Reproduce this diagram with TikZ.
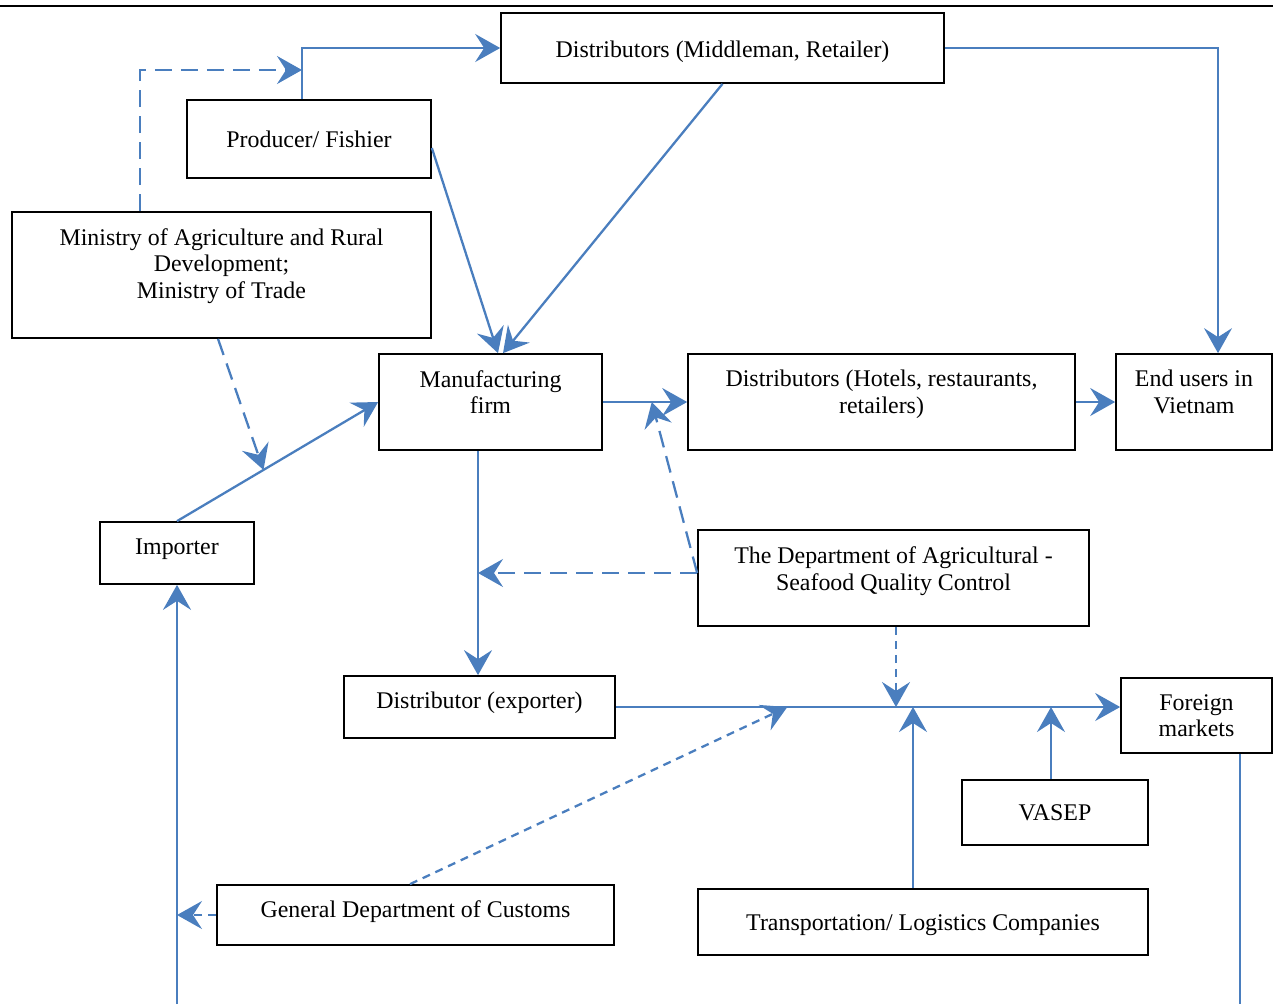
\documentclass[tikz,border=0pt]{standalone}
\usepackage{fontspec}
\setmainfont{Liberation Serif}
\usepackage{tikz}
\usetikzlibrary{arrows.meta, calc}

\definecolor{lineblue}{RGB}{74,126,190}

\begin{document}
\begin{tikzpicture}[
    x=0.02cm, y=-0.02cm,
    % Styles
    box/.style={
        rectangle,
        draw=black,
        line width=1pt,
        align=center,
        inner sep=0pt,
        font=\fontsize{13.6}{15.1}\selectfont
    },
    link/.style={
        draw=lineblue,
        line width=1.3pt,
        -{Stealth[length=0.5cm, width=0.56cm, inset=0.18cm]}
    },
    dlink/.style={
        link,
        dash pattern=on 0.34cm off 0.18cm
    },
    sdlink/.style={
        link,
        dash pattern=on 0.16cm off 0.12cm
    },
    thinlink/.style={
        draw=lineblue,
        line width=0.8pt
    }
]
\useasboundingbox (0,0) rectangle (1273,1004);

% Header rule
\draw[line width=1.2pt] (0,6) -- (1273,6);

% Upper row
\node[box, minimum width=8.86cm, minimum height=1.40cm, text height=13.8pt] (distmid) at (722.5,48)
    {Distributors (Middleman, Retailer)};
\node[box, minimum width=4.88cm, minimum height=1.56cm] (producer) at (309,139)
    {Producer/ Fishier};
\node[box, minimum width=8.38cm, minimum height=2.52cm, text depth=13pt] (ministry) at (221.5,275)
    {Ministry of Agriculture and Rural\\ Development;\\ Ministry of Trade};

% Middle row
\node[box, minimum width=4.46cm, minimum height=1.92cm, text depth=11.5pt] (manuf) at (490.5,402)
    {Manufacturing\\ firm};
\node[box, minimum width=7.74cm, minimum height=1.92cm, text depth=12pt] (disthotel) at (881.5,402)
    {Distributors (Hotels, restaurants,\\ retailers)};
\node[box, minimum width=3.12cm, minimum height=1.92cm, text depth=11.5pt] (endusers) at (1194,402)
    {End users in\\ Vietnam};
\node[box, minimum width=3.08cm, minimum height=1.24cm, text depth=7.6pt] (importer) at (177,553)
    {Importer};
\node[box, minimum width=7.82cm, minimum height=1.92cm, text depth=11pt] (dept) at (893.5,578)
    {The Department of Agricultural -\\ Seafood Quality Control};

% Lower row
\node[box, minimum width=5.42cm, minimum height=1.24cm, text depth=8pt] (exporter) at (479.5,707)
    {Distributor (exporter)};
\node[box, minimum width=3.02cm, minimum height=1.50cm] (foreign) at (1196.5,715.5)
    {Foreign\\ markets};
\node[box, minimum width=3.72cm, minimum height=1.30cm] (vasep) at (1055,812.5)
    {VASEP};
\node[box, minimum width=7.94cm, minimum height=1.20cm, text depth=6.6pt] (customs) at (415.5,915)
    {General Department of Customs};
\node[box, minimum width=9.00cm, minimum height=1.32cm, text height=13pt] (transport) at (923,922)
    {Transportation/ Logistics Companies};

% Join points
\coordinate (upjoin) at ([xshift=-0.14cm]producer.north |- 0,70);
\coordinate (impjoin) at ($(importer.north)!0.43!(manuf.west)$);
\coordinate (hoteljoin) at ($(manuf.east)!0.58!(disthotel.west)$);
\coordinate (deptW) at ([yshift=0.1cm]dept.west);
\coordinate (expN) at ([xshift=-0.03cm]exporter.north);
\coordinate (custjoin) at ($(exporter.east)!0.34!(exporter.east -| foreign.west)$);
\coordinate (impin) at (importer.south |- 0,1004);
\coordinate (fmout) at ([xshift=0.87cm]foreign.south |- 0,1004);

% Domestic flows
\draw[link] ([xshift=-0.14cm]producer.north) |- (distmid.west);
\draw[dlink] ([xshift=-1.63cm]ministry.north) |- (upjoin);
\draw[thinlink, -{Stealth[length=0.5cm, width=0.56cm, inset=0.18cm]}]
    (distmid.east) -| ([xshift=0.48cm]endusers.north);
\draw[link] ([yshift=-0.18cm]producer.east) -- ([xshift=0.15cm]manuf.north);
\draw[link] (distmid.south) -- ([xshift=0.25cm]manuf.north);
\draw[dlink] ([xshift=-0.07cm]ministry.south) -- (impjoin);
\draw[link] (importer.north) -- (manuf.west);
\draw[link] (manuf.east) -- (disthotel.west);
\draw[link] (disthotel.east) -- (endusers.west);
\draw[dlink] (deptW) -- (hoteljoin);
\draw[dlink] (deptW) -- (deptW -| expN);

% Export flows
\draw[link] (manuf.south -| expN) -- (expN);
\draw[link] (exporter.east) -- (exporter.east -| foreign.west);
\draw[sdlink] ([xshift=0.05cm]dept.south) -- ([xshift=0.05cm]dept.south |- exporter.east);
\draw[link] ([xshift=-0.2cm]transport.north) -- ([xshift=-0.2cm]transport.north |- exporter.east);
\draw[link] ([xshift=-0.08cm]vasep.north) -- ([xshift=-0.08cm]vasep.north |- exporter.east);
\draw[sdlink] ([xshift=-0.11cm]customs.north) -- (custjoin);
\draw[sdlink] (customs.west) -- (customs.west -| importer.south);
\draw[link] (impin) -- (importer.south);
\draw[thinlink] ([xshift=0.87cm]foreign.south) -- (fmout);

\end{tikzpicture}
\end{document}
